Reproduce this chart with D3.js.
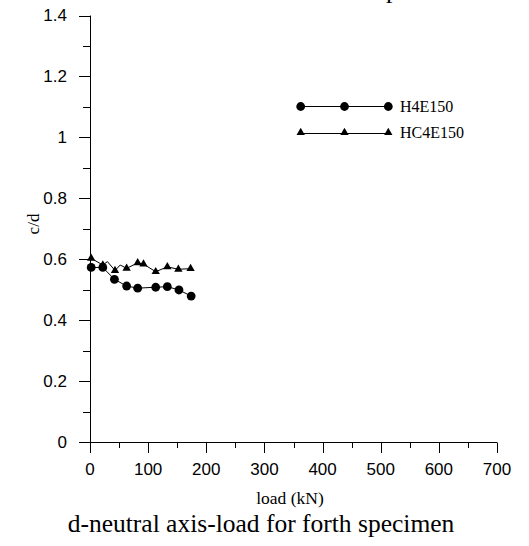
<!DOCTYPE html>
<html>
<head>
<meta charset="utf-8">
<script src="https://cdn.jsdelivr.net/npm/d3@7"></script>
<style>
html,body{margin:0;padding:0;background:#fff;}
svg{display:block;}
</style>
</head>
<body>
<svg id="chart" width="529" height="546"></svg>
<script>
// ---- data ----
const h4Load = [2, 22, 42, 63, 82, 113, 133, 153, 174];
const h4Cd   = [0.573, 0.573, 0.534, 0.512, 0.505, 0.508, 0.510, 0.499, 0.479];

const hc4Load   = [2, 22, 30, 43, 52, 63, 82, 92, 113, 133, 152, 173];
const hc4Cd     = [0.603, 0.581, 0.592, 0.563, 0.581, 0.570, 0.588, 0.584, 0.559, 0.575, 0.567, 0.569];
const hc4Marked = [true, true, false, true, false, true, true, true, true, true, true, true];

const xTicks = [0, 100, 200, 300, 400, 500, 600, 700];
const xMinor = [50, 150, 250, 350, 450, 550, 650];
const yTicks = [0, 0.2, 0.4, 0.6, 0.8, 1, 1.2, 1.4];
const yTickLabels = ["0", "0.2", "0.4", "0.6", "0.8", "1", "1.2", "1.4"];
const yMinor = [0.1, 0.3, 0.5, 0.7, 0.9, 1.1, 1.3];

const seriesNames = ["H4E150", "HC4E150"];

// ---- layout ----
const svg = d3.select("#chart");
const x = d3.scaleLinear().domain([0, 700]).range([90, 497]);
const y = d3.scaleLinear().domain([0, 1.4]).range([442, 15.5]);

const sans = "'Liberation Sans', Arial, sans-serif";
const serif = "'Liberation Serif', 'Times New Roman', serif";

// cut-off title fragment at the top
svg.append("text").attr("x", 386).attr("y", -2)
  .attr("font-family", serif).attr("font-size", 26).text("p");

// y axis
const yAxis = svg.append("g").attr("stroke", "#000").attr("stroke-width", 1);
yAxis.append("line").attr("x1", 90.5).attr("x2", 90.5).attr("y1", y(1.4)).attr("y2", y(0));
yAxis.selectAll(".ymaj").data(yTicks).join("line")
  .attr("x1", 79).attr("x2", 90.5)
  .attr("y1", d => Math.round(y(d)) + 0.5).attr("y2", d => Math.round(y(d)) + 0.5);
yAxis.selectAll(".ymin").data(yMinor).join("line")
  .attr("x1", 83).attr("x2", 90.5)
  .attr("y1", d => Math.round(y(d)) + 0.5).attr("y2", d => Math.round(y(d)) + 0.5);

svg.append("g").selectAll("text").data(yTicks).join("text")
  .attr("x", 67).attr("y", d => y(d)).attr("dy", "0.35em")
  .attr("text-anchor", "end").attr("font-family", sans).attr("font-size", 17)
  .text((d, i) => yTickLabels[i]);

// x axis
const xAxis = svg.append("g").attr("stroke", "#000").attr("stroke-width", 1);
xAxis.append("line").attr("x1", x(0)).attr("x2", x(700)).attr("y1", 442.5).attr("y2", 442.5);
xAxis.selectAll(".xmaj").data(xTicks).join("line")
  .attr("x1", d => Math.round(x(d)) + 0.5).attr("x2", d => Math.round(x(d)) + 0.5)
  .attr("y1", 442.5).attr("y2", 453);
xAxis.selectAll(".xmin").data(xMinor).join("line")
  .attr("x1", d => Math.round(x(d)) + 0.5).attr("x2", d => Math.round(x(d)) + 0.5)
  .attr("y1", 442.5).attr("y2", 448);

svg.append("g").selectAll("text").data(xTicks).join("text")
  .attr("x", d => x(d)).attr("y", 475)
  .attr("text-anchor", "middle").attr("font-family", sans).attr("font-size", 17)
  .text(d => d);

// axis titles
svg.append("text").attr("x", 290).attr("y", 504)
  .attr("text-anchor", "middle").attr("font-family", serif).attr("font-size", 17.5)
  .text("load (kN)");
svg.append("text").attr("transform", "translate(39,224) rotate(-90)")
  .attr("text-anchor", "middle").attr("font-family", serif).attr("font-size", 17)
  .text("c/d");
svg.append("text").attr("x", 261).attr("y", 532)
  .attr("text-anchor", "middle").attr("font-family", serif).attr("font-size", 25.5)
  .text("d-neutral axis-load for forth specimen");

// series
const line = d3.line().x(d => x(d[0])).y(d => y(d[1]));
const h4 = h4Load.map((v, i) => [v, h4Cd[i]]);
const hc4 = hc4Load.map((v, i) => [v, hc4Cd[i]]);

const triSym = d3.symbol().type(d3.symbolTriangle).size(30);

svg.append("path").datum(hc4).attr("d", line)
  .attr("fill", "none").attr("stroke", "#000").attr("stroke-width", 1);
svg.append("path").datum(h4).attr("d", line)
  .attr("fill", "none").attr("stroke", "#000").attr("stroke-width", 1);

svg.append("g").selectAll("path").data(hc4.filter((d, i) => hc4Marked[i])).join("path")
  .attr("d", triSym).attr("transform", d => `translate(${x(d[0])},${y(d[1])})`)
  .attr("fill", "#000");
svg.append("g").selectAll("circle").data(h4).join("circle")
  .attr("cx", d => x(d[0])).attr("cy", d => y(d[1])).attr("r", 4.4)
  .attr("fill", "#000");

// legend
const lg = svg.append("g");
const lgX = [300.7, 344.5, 388.3];
lg.append("line").attr("x1", lgX[0]).attr("x2", lgX[2]).attr("y1", 106.5).attr("y2", 106.5)
  .attr("stroke", "#000").attr("stroke-width", 1);
lg.selectAll("circle").data(lgX).join("circle")
  .attr("cx", d => d).attr("cy", 106.5).attr("r", 4.4).attr("fill", "#000");
lg.append("line").attr("x1", lgX[0]).attr("x2", lgX[2]).attr("y1", 133.5).attr("y2", 133.5)
  .attr("stroke", "#000").attr("stroke-width", 1);
lg.selectAll(".tri").data(lgX).join("path")
  .attr("d", triSym).attr("transform", d => `translate(${d},132.5)`).attr("fill", "#000");
lg.selectAll("text").data(seriesNames).join("text")
  .attr("x", 400).attr("y", (d, i) => i === 0 ? 112 : 138)
  .attr("font-family", serif).attr("font-size", 16)
  .text(d => d);
</script>
</body>
</html>
